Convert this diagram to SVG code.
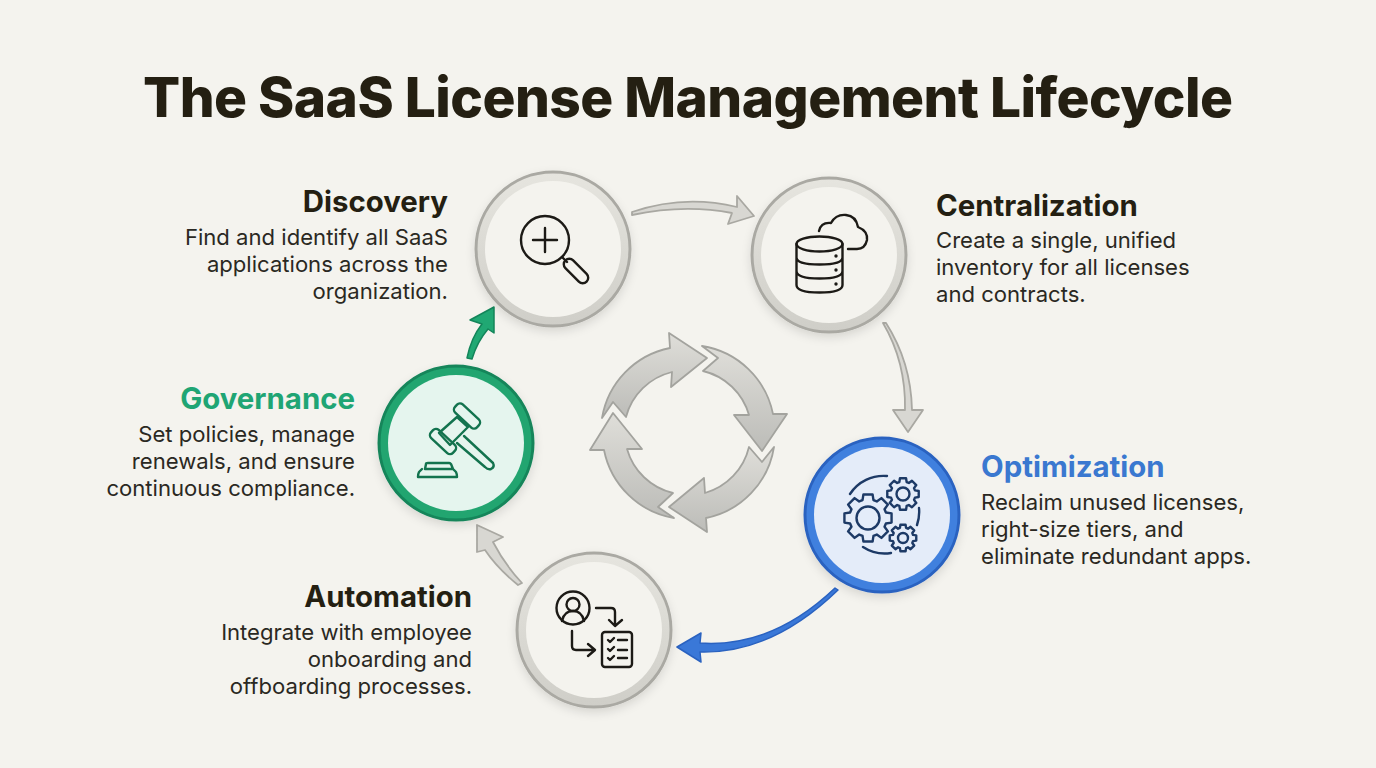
<svg xmlns="http://www.w3.org/2000/svg" width="1376" height="768" viewBox="0 0 1376 768">
<defs>
<style>
text{font-family:Inter,"Liberation Sans",sans-serif;fill:#241f12}
.title{font-size:55px;font-weight:800;letter-spacing:-0.55px}
.h{font-size:29.400px;font-weight:700}
.b{font-size:22.100px;font-weight:400;fill:#2a2822}
.e{text-anchor:end}
.ic{fill:none;stroke:#1c1a16;stroke-width:2.400;stroke-linecap:round;stroke-linejoin:round}
.ring{fill:url(#rg);stroke:#aaa9a3;stroke-width:3}
.inner{fill:#f4f3ee}
.cyc{stroke:#a3a39e;stroke-width:1.800;stroke-linejoin:round}
.gc{fill:#d8d7d2;stroke:#a9a8a2;stroke-width:1.800;stroke-linejoin:round}
</style>
<linearGradient id="cg" x1="0" y1="0" x2="0" y2="1"><stop offset="0" stop-color="#dfded9"/><stop offset="1" stop-color="#bcbcb8"/></linearGradient>
<linearGradient id="rg" x1="0" y1="0" x2="0" y2="1"><stop offset="0" stop-color="#e6e5df"/><stop offset="1" stop-color="#cfcec8"/></linearGradient>
<filter id="sh" x="-20%" y="-20%" width="140%" height="140%"><feDropShadow dx="0" dy="4" stdDeviation="5" flood-color="#000" flood-opacity="0.12"/></filter>
<path id="gear" vector-effect="non-scaling-stroke" d="M.746-.228L.982-.191L.982.191L.746.228L.689.366L.829.559L.559.829L.366.689L.228.746L.191.982L-.191.982L-.228.746L-.366.689L-.559.829L-.829.559L-.689.366L-.746.228L-.982.191L-.982-.191L-.746-.228L-.689-.366L-.829-.559L-.559-.829L-.366-.689L-.228-.746L-.191-.982L.191-.982L.228-.746L.366-.689L.559-.829L.829-.559L.689-.366Z"/>
</defs>
<rect width="1376" height="768" fill="#f4f3ee"/>
<text class="title" x="143" y="117">The SaaS License Management Lifecycle</text>
<g id="cycle" fill="url(#cg)" class="cyc">
<path d="M602 418L613 402L626 417A63 63 0 0 1 672 372L671 387L707 358L669 333L670 348A86 86 0 0 0 602 418Z"/>
<path d="M702 346L718 358L703 371A63 63 0 0 1 749 415L734 415L762 451L787 414L773 414A86 86 0 0 0 702 346Z"/>
<path d="M774 447L762 462L749 447A63 63 0 0 1 705 493L704 478L669 507L707 532L706 518A86 86 0 0 0 774 447Z"/>
<path d="M674 518L658 507L673 493A63 63 0 0 1 627 449L642 449L613 413L590 450L604 450A86 86 0 0 0 674 518Z"/>
</g>
<g id="connectors">
<path class="gc" d="M632 212Q684 194 737 207L737 196L754 216L728 224L732 213Q684 204 632 215Z"/>
<path class="gc" d="M883 323Q906 362 905 410L893 410L908 432L923 410L912 410Q911 362 886 323Z"/>
<path d="M835 588Q772 648 700 643L701 633L677 647L701 662L700 652Q772 654 838 590Z" fill="#3a78d8" stroke="#2a62c0" stroke-width="1.500" stroke-linejoin="round"/>
<path class="gc" d="M518 585Q497 568 485 550L477 552L477 525L503 537L493 542Q505 565 522 583Z"/>
<path d="M467 358Q471 338 482 324L470 320L494 307L494 333L488 329Q477 342 472 359Z" fill="#20a873" stroke="#13855a" stroke-width="1.500" stroke-linejoin="round"/>
</g>
<g id="discovery">
<circle class="ring" cx="553" cy="249" r="77" filter="url(#sh)"/><circle class="inner" cx="553" cy="249" r="68"/>
<g class="ic"><circle cx="545" cy="240" r="24"/><path d="M533 240H557M545 228V252M562 257L567 262"/><rect x="561" y="265.500" width="30" height="11" rx="5.500" transform="rotate(45 576 271)"/></g>
<text class="h e" x="448" y="212">Discovery</text>
<text class="b e"><tspan x="448" y="245">Find and identify all SaaS</tspan><tspan x="448" y="272">applications across the</tspan><tspan x="448" y="299">organization.</tspan></text>
</g>
<g id="centralization">
<circle class="ring" cx="829" cy="255" r="77" filter="url(#sh)"/><circle class="inner" cx="829" cy="255" r="68"/>
<g class="ic"><ellipse cx="819.500" cy="244" rx="23" ry="7.500"/><path d="M796.500 244V285Q796.500 292.500 819.500 292.500Q842.500 292.500 842.500 285V244M796.500 257.500Q796.500 264.500 819.500 264.500Q842.500 264.500 842.500 257.500M796.500 271Q796.500 278.500 819.500 278.500Q842.500 278.500 842.500 271"/><path d="M819 231Q821 222 831 223Q836 214 846 215Q856 216 858 227Q868 231 867 240Q865 249 857 249H848"/></g>
<circle cx="836" cy="256" r="1.700" fill="#1c1a16"/><circle cx="836" cy="270" r="1.700" fill="#1c1a16"/><circle cx="836" cy="284" r="1.700" fill="#1c1a16"/>
<text class="h" x="936" y="216">Centralization</text>
<text class="b"><tspan x="936" y="248">Create a single, unified</tspan><tspan x="936" y="275">inventory for all licenses</tspan><tspan x="936" y="302">and contracts.</tspan></text>
</g>
<g id="optimization">
<circle cx="882" cy="515" r="77" fill="#3f80de" stroke="#2a62c0" stroke-width="3" filter="url(#sh)"/><circle cx="882" cy="515" r="68" fill="#e4ecf9"/>
<g class="ic" style="stroke:#1d3a66"><path d="M850 494A40 40 0 0 1 887 476M919 508A40 40 0 0 1 917 525M863 547A40 40 0 0 0 891 553"/>
<circle cx="868" cy="518" r="11.500"/><use href="#gear" transform="translate(868 518) scale(24)"/>
<circle cx="903" cy="494" r="6.500"/><use href="#gear" transform="translate(903 494) scale(16)"/>
<circle cx="903" cy="538" r="5"/><use href="#gear" transform="translate(903 538) scale(13.500)"/></g>
<text class="h" x="981" y="477" style="fill:#3a78d0">Optimization</text>
<text class="b"><tspan x="981" y="510">Reclaim unused licenses,</tspan><tspan x="981" y="537">right-size tiers, and</tspan><tspan x="981" y="564">eliminate redundant apps.</tspan></text>
</g>
<g id="automation">
<circle class="ring" cx="594" cy="630" r="77" filter="url(#sh)"/><circle class="inner" cx="594" cy="630" r="68"/>
<g class="ic"><circle cx="573" cy="608" r="16.500"/><circle cx="573" cy="604.500" r="6.500"/><path d="M562 621Q564 611 573 611Q582 611 584 621M596 608H611Q615 608 615 612V625M609 620L615 626L622 620M572 631V646Q572 650 576 650H594M588 644L595 650L588 656"/><rect x="602" y="632" width="30" height="35" rx="3"/><path d="M618 640H627M618 650H627M618 658H627M608 640L610 642L614 638M608 649L610 651L614 647M608 658L610 660L614 656"/></g>
<text class="h e" x="472" y="607">Automation</text>
<text class="b e"><tspan x="472" y="640">Integrate with employee</tspan><tspan x="472" y="667">onboarding and</tspan><tspan x="472" y="694">offboarding processes.</tspan></text>
</g>
<g id="governance">
<circle cx="456" cy="443" r="77" fill="#20a56f" stroke="#13855a" stroke-width="3" filter="url(#sh)"/><circle cx="456" cy="443" r="68" fill="#e5f5ee"/>
<g class="ic" style="stroke:#13734e"><rect x="452" y="410.500" width="30" height="11" rx="4" transform="rotate(43 467 416)"/><rect x="428" y="436" width="30" height="11" rx="4" transform="rotate(43 443 441.500)"/><path d="M457 417L468 427L450 445L439 433ZM464 436L493 463Q495 467 491 469Q488 470 485 467L457 443"/><path d="M425 469L426 464Q426 463 428 463H449Q450 463 451 464L453 469M425 469H453L456 472Q457 474 457 477H418Q418 474 419 472L422 469"/></g>
<text class="h e" x="355" y="409" style="fill:#1fa574">Governance</text>
<text class="b e"><tspan x="355" y="442">Set policies, manage</tspan><tspan x="355" y="469">renewals, and ensure</tspan><tspan x="355" y="496">continuous compliance.</tspan></text>
</g>
</svg>
